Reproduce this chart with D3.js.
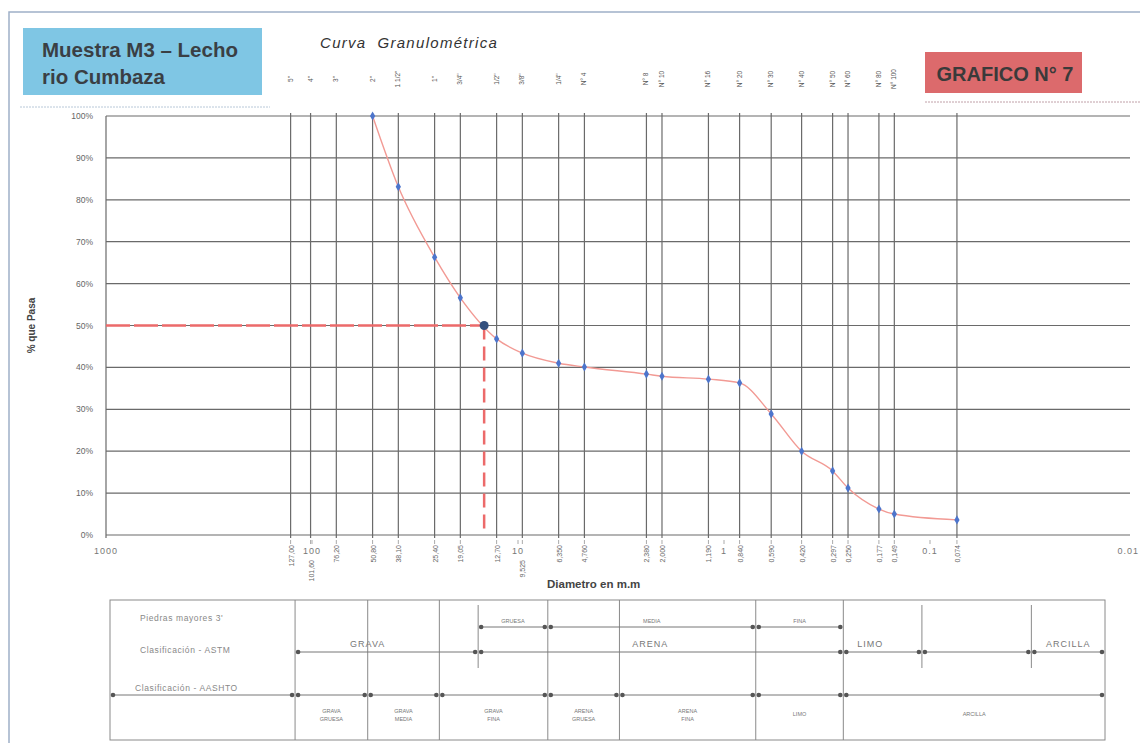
<!DOCTYPE html>
<html>
<head>
<meta charset="utf-8">
<script src="https://cdn.jsdelivr.net/npm/d3@7"></script>
<style>
  body { margin: 0; background: #fff; }
  svg { display: block; font-family: "Liberation Sans", Arial, sans-serif; }
</style>
</head>
<body>
<div id="chart"></div>
<script>
// sieve openings (mm) and their names
const sieveMm = [127, 101.6, 76.2, 50.8, 38.1, 25.4, 19.05, 12.7, 9.525, 6.35, 4.76, 2.38, 2.0, 1.19, 0.84, 0.59, 0.42, 0.297, 0.25, 0.177, 0.149, 0.074];
const sieveNames = ['5"', '4"', '3"', '2"', '1 1/2"', '1"', '3/4"', '1/2"', '3/8"', '1/4"', 'N° 4', 'N° 8', 'N° 10', 'N° 16', 'N° 20', 'N° 30', 'N° 40', 'N° 50', 'N° 60', 'N° 80', 'N° 100', ''];
const mmLabels = ['127,00', '101,60', '76,20', '50,80', '38,10', '25,40', '19,05', '12,70', '9,525', '6,350', '4,760', '2,380', '2,000', '1,190', '0,840', '0,590', '0,420', '0,297', '0,250', '0,177', '0,149', '0,074'];
const lowMmLabels = ['101,60', '9,525'];

// % que pasa
const passSizes = [50.8, 38.1, 25.4, 19.05, 12.7, 9.525, 6.35, 4.76, 2.38, 2.0, 1.19, 0.84, 0.59, 0.42, 0.297, 0.25, 0.177, 0.149, 0.074];
const passPct = [100, 83.1, 66.3, 56.6, 46.8, 43.4, 41.0, 40.1, 38.4, 37.9, 37.2, 36.3, 28.9, 20.0, 15.3, 11.2, 6.2, 5.0, 3.6];
const d50 = 14.6;

const decadeTicks = [1000, 100, 10, 1, 0.1, 0.01];
const decadeLabels = ['1000', '100', '10', '1', '0.1', '0.01'];
const yTicks = [0, 10, 20, 30, 40, 50, 60, 70, 80, 90, 100];

// classification table (column edges in % of the table width)
const tableEdges = [0, 18.6, 25.9, 33.1, 44.0, 51.2, 64.9, 73.7, 100];
const aashtoNames = [['GRAVA', 'GRUESA'], ['GRAVA', 'MEDIA'], ['GRAVA', 'FINA'], ['ARENA', 'GRUESA'], ['ARENA', 'FINA'], ['LIMO'], ['ARCILLA']];
const astmSub = [{ from: 37.0, to: 44.0, name: 'GRUESA' }, { from: 44.0, to: 64.9, name: 'MEDIA' }, { from: 64.9, to: 73.7, name: 'FINA' }];
const astmMain = [{ from: 18.6, to: 37.0, name: 'GRAVA', at: 25.9 }, { from: 37.0, to: 73.7, name: 'ARENA', at: 54.3 }, { from: 73.7, to: 81.6, name: 'LIMO', at: 76.4 }, { from: 81.6, to: 92.6, name: '', at: 0 }, { from: 92.6, to: 100, name: 'ARCILLA', at: 96.3 }];
const partialEdges = [37.0, 81.6, 92.6];
const rowLabels = ["Piedras mayores 3'", 'Clasificación - ASTM', 'Clasificación - AASHTO'];

const width = 1140, height = 743;
const svg = d3.select('#chart').append('svg').attr('width', width).attr('height', height);

const x = d3.scaleLog().domain([1000, 0.01]).range([106, 1136]);
const y = d3.scaleLinear().domain([0, 100]).range([535, 116]);
const plotRight = 1130;

// outer frame
svg.append('path').attr('d', `M9,743 V12 H${width}`).attr('fill', 'none').attr('stroke', '#9fb0c8').attr('stroke-width', 1.5);

// header boxes
svg.append('rect').attr('x', 23).attr('y', 28).attr('width', 239).attr('height', 67).attr('fill', '#7fc6e4');
svg.append('line').attr('x1', 20).attr('x2', 270).attr('y1', 107).attr('y2', 107)
  .attr('stroke', '#b8c8d8').attr('stroke-dasharray', '2,1');
svg.append('text').attr('x', 42).attr('y', 57).attr('font-size', 20.5).attr('font-weight', 'bold').attr('fill', '#3a3f44').text('Muestra M3 – Lecho');
svg.append('text').attr('x', 42).attr('y', 84).attr('font-size', 20.5).attr('font-weight', 'bold').attr('fill', '#3a3f44').text('rio Cumbaza');

svg.append('text').attr('x', 320).attr('y', 48).attr('font-size', 15).attr('font-style', 'italic').attr('fill', '#333')
  .attr('letter-spacing', 1.3).attr('xml:space', 'preserve').text('Curva  Granulométrica');

svg.append('rect').attr('x', 925).attr('y', 52).attr('width', 157).attr('height', 41).attr('fill', '#dc6a6c');
svg.append('text').attr('x', 1005).attr('y', 81).attr('text-anchor', 'middle').attr('font-size', 20).attr('font-weight', 'bold').attr('fill', '#3a3a3a').text('GRAFICO N° 7');
svg.append('line').attr('x1', 925).attr('x2', 1140).attr('y1', 102).attr('y2', 102)
  .attr('stroke', '#c0a0a8').attr('stroke-dasharray', '2,1');

// grid
const grid = svg.append('g').attr('stroke', '#6a6a6a').attr('stroke-width', 1.2);
grid.selectAll('line.h').data(yTicks).join('line')
  .attr('x1', x(1000)).attr('x2', plotRight).attr('y1', d => y(d)).attr('y2', d => y(d));
grid.selectAll('line.v').data(sieveMm).join('line')
  .attr('x1', d => x(d)).attr('x2', d => x(d)).attr('y1', y(100) - 3).attr('y2', y(0) + 3);
grid.append('line').attr('x1', x(1000)).attr('x2', x(1000)).attr('y1', y(100)).attr('y2', y(0) + 3);

// y axis labels
svg.append('g').selectAll('text').data(yTicks).join('text')
  .attr('x', 93).attr('y', d => y(d) + 3).attr('text-anchor', 'end')
  .attr('font-size', 8.5).attr('fill', '#666').text(d => d + '%');
svg.append('text').attr('transform', `translate(35,${y(50)}) rotate(-90)`).attr('text-anchor', 'middle')
  .attr('font-size', 10).attr('font-weight', 'bold').attr('fill', '#444').text('% que Pasa');

// bottom ticks and labels
svg.append('g').selectAll('line').data(sieveMm.concat(decadeTicks.slice(1, 5))).join('line')
  .attr('x1', d => x(d)).attr('x2', d => x(d)).attr('y1', y(0) + 5).attr('y2', y(0) + 9)
  .attr('stroke', '#aaa');
svg.append('g').selectAll('text').data(decadeTicks).join('text')
  .attr('x', (d, i) => i === decadeTicks.length - 1 ? width - 1 : x(d)).attr('y', 554)
  .attr('text-anchor', (d, i) => i === decadeTicks.length - 1 ? 'end' : 'middle')
  .attr('font-size', 9).attr('fill', '#777').attr('letter-spacing', 1)
  .text((d, i) => decadeLabels[i]);
svg.append('g').selectAll('text').data(sieveMm).join('text')
  .attr('transform', (d, i) => `translate(${x(d) + 3},${lowMmLabels.includes(mmLabels[i]) ? 560 : 545}) rotate(-90)`)
  .attr('text-anchor', 'end').attr('font-size', 7).attr('fill', '#666')
  .text((d, i) => mmLabels[i]);
svg.append('text').attr('x', 547).attr('y', 588).attr('font-size', 11.5).attr('font-weight', 'bold').attr('fill', '#444').text('Diametro en m.m');

// top sieve names
svg.append('g').selectAll('text').data(sieveMm).join('text')
  .attr('transform', d => `translate(${x(d) + 2},79) rotate(-90)`)
  .attr('text-anchor', 'middle').attr('font-size', 6.5).attr('fill', '#555')
  .text((d, i) => sieveNames[i]);

// D50 guide lines
svg.append('line').attr('x1', x(1000)).attr('x2', x(d50)).attr('y1', y(50)).attr('y2', y(50))
  .attr('stroke', '#ec6a6a').attr('stroke-width', 2.5).attr('stroke-dasharray', '24,4');
svg.append('line').attr('x1', x(d50)).attr('x2', x(d50)).attr('y1', y(50)).attr('y2', y(0))
  .attr('stroke', '#ec6a6a').attr('stroke-width', 2.5).attr('stroke-dasharray', '14,7');

// curve
const pts = passSizes.map((d, i) => [d, passPct[i]]);
svg.append('path').datum(pts)
  .attr('d', d3.line().x(d => x(d[0])).y(d => y(d[1])).curve(d3.curveMonotoneX))
  .attr('fill', 'none').attr('stroke', '#f29a94').attr('stroke-width', 1.4);
svg.append('g').selectAll('path').data(pts).join('path')
  .attr('d', d3.symbol(d3.symbolDiamond, 24))
  .attr('transform', d => `translate(${x(d[0])},${y(d[1])})`)
  .attr('fill', '#4d75cc');
svg.append('circle').attr('cx', x(d50)).attr('cy', y(50)).attr('r', 4.5).attr('fill', '#34507e');

// classification table
const t = d3.scaleLinear().domain([0, 100]).range([110, 1105]);
const tb = svg.append('g').attr('stroke', '#8a8a8a').attr('fill', 'none');
tb.append('rect').attr('x', t(0)).attr('y', 600).attr('width', t(100) - t(0)).attr('height', 140);
tb.selectAll('line.full').data(tableEdges.slice(1, -1)).join('line')
  .attr('x1', d => t(d)).attr('x2', d => t(d)).attr('y1', 600).attr('y2', 740);
tb.selectAll('line.part').data(partialEdges).join('line').attr('class', 'part')
  .attr('x1', d => t(d)).attr('x2', d => t(d)).attr('y1', 605).attr('y2', 668);

function arrows(data, yy) {
  const g = svg.append('g');
  g.selectAll('line').data(data).join('line')
    .attr('x1', d => t(d.from) + 3).attr('x2', d => t(d.to) - 3).attr('y1', yy).attr('y2', yy)
    .attr('stroke', '#777').attr('stroke-width', 1);
  const ends = data.flatMap(d => [t(d.from) + 3, t(d.to) - 3]);
  g.selectAll('circle').data(ends).join('circle')
    .attr('cx', d => d).attr('cy', yy).attr('r', 2.3).attr('fill', '#555');
}
arrows(astmSub, 627);
arrows(astmMain, 652);
arrows(tableEdges.slice(0, -1).map((d, i) => ({ from: d, to: tableEdges[i + 1] })), 695);

svg.append('g').selectAll('text').data(astmSub).join('text')
  .attr('x', d => t((d.from + d.to) / 2)).attr('y', 623).attr('text-anchor', 'middle')
  .attr('font-size', 5.5).attr('fill', '#777').text(d => d.name);
svg.append('g').selectAll('text').data(astmMain.filter(d => d.name)).join('text')
  .attr('x', d => t(d.at)).attr('y', 647).attr('text-anchor', 'middle')
  .attr('font-size', 9).attr('fill', '#777').attr('letter-spacing', 1).text(d => d.name);

svg.append('g').selectAll('text').data(rowLabels).join('text')
  .attr('x', (d, i) => i === 2 ? 135 : 140).attr('y', (d, i) => [621, 653, 691][i])
  .attr('font-size', 8.5).attr('letter-spacing', 0.6).attr('fill', '#888').text(d => d);

const cells = svg.append('g').selectAll('text').data(aashtoNames).join('text')
  .attr('text-anchor', 'middle').attr('font-size', 5.5).attr('fill', '#777')
  .attr('x', (d, i) => t((tableEdges[i + 1] + tableEdges[i + 2]) / 2));
cells.each(function (d) {
  const el = d3.select(this);
  el.attr('y', d.length > 1 ? 713 : 716);
  d.forEach((w, k) => el.append('tspan').attr('x', el.attr('x')).attr('dy', k ? 8 : 0).text(w));
});
</script>
</body>
</html>
